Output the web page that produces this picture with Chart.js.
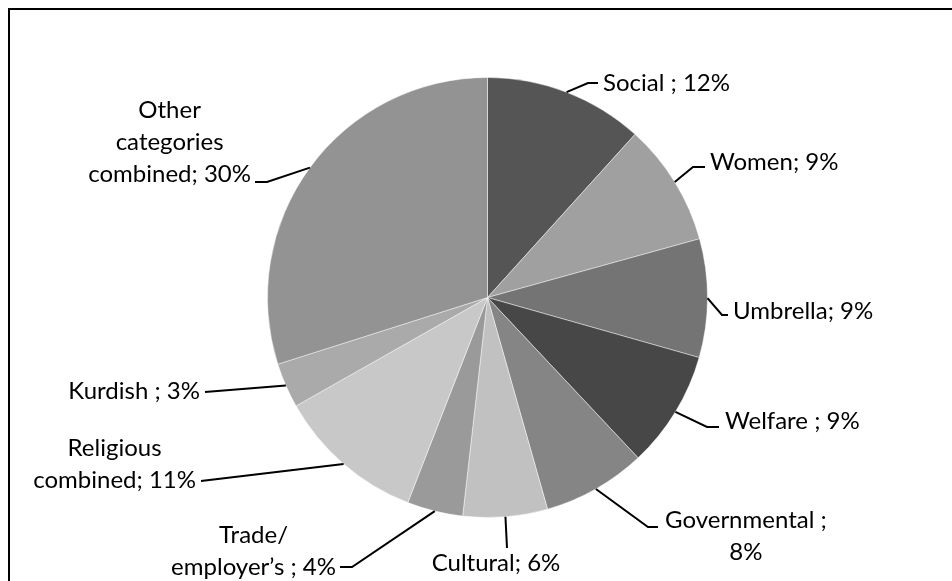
<!DOCTYPE html>
<html>
<head>
<meta charset="utf-8">
<script src="https://cdn.jsdelivr.net/npm/chart.js@4.4.1/dist/chart.umd.min.js"></script>
<style>
  html, body { margin: 0; padding: 0; background: #fff; overflow: hidden; }
  #wrap { width: 952px; height: 581px; }
</style>
</head>
<body>
<div id="wrap"><canvas id="pieChart" width="952" height="581"></canvas></div>
<script>
// Shares by organisation type (percent)
const categories = ['Social', 'Women', 'Umbrella', 'Welfare', 'Governmental', 'Cultural',
    'Trade/ employer\u2019s', 'Religious combined', 'Kurdish', 'Other categories combined'];
const shares = [11.7, 9.0, 8.7, 8.6, 7.6, 6.2, 4.1, 10.9, 3.3, 29.9];
const sliceColors = ['#555555', '#a0a0a0', '#747474', '#474747', '#858585',
    '#c1c1c1', '#9a9a9a', '#c8c8c8', '#aaaaaa', '#939393'];

// label text as it is broken in the original, percent appended to the last line
const labelLines = [
    ['Social ; '], ['Women; '], ['Umbrella; '], ['Welfare ; '], ['Governmental ;', ''],
    ['Cultural; '], ['Trade/', 'employer\u2019s ; '], ['Religious', 'combined; '],
    ['Kurdish ; '], ['Other', 'categories', 'combined; ']
];

// where each label sits and how its leader line bends
const labelLayout = [
    { anchor: 'left',   x: 603, y: 83,  pts: [[588, 83], [598, 83]] },
    { anchor: 'left',   x: 710, y: 162, pts: [[693, 167], [705, 167]] },
    { anchor: 'left',   x: 733, y: 311, pts: [[722, 315], [728, 315]] },
    { anchor: 'left',   x: 725, y: 421, pts: [[707, 427], [719, 427]] },
    { anchor: 'left',   x: 665, y: 520, pts: [[648, 527], [658, 527]] },
    { anchor: 'center', x: 496, y: 563, pts: [[507, 548]] },
    { anchor: 'right',  x: 336, y: 535, pts: [[352, 567], [340, 567]] },
    { anchor: 'right',  x: 196, y: 448, pts: [[201, 481]] },
    { anchor: 'right',  x: 200, y: 391, pts: [[205, 392]] },
    { anchor: 'right',  x: 251, y: 110, pts: [[267, 182], [255, 182]] }
];

const FONT = '24px Lato, "Open Sans", sans-serif';
const LINE_H = 32;

const frameAndLabels = {
    id: 'frameAndLabels',
    beforeDraw(chart) {
        const c = chart.ctx;
        c.save();
        c.fillStyle = '#ffffff';
        c.fillRect(0, 0, chart.width, chart.height);
        c.strokeStyle = '#000000';
        c.lineWidth = 2;
        c.beginPath();
        c.moveTo(9, chart.height);
        c.lineTo(9, 9);
        c.lineTo(chart.width, 9);
        c.stroke();
        c.restore();
    },
    afterDatasetsDraw(chart) {
        const c = chart.ctx;
        const meta = chart.getDatasetMeta(0);
        const total = shares.reduce((a, b) => a + b, 0);
        c.save();
        c.font = FONT;
        c.fillStyle = '#000000';
        c.strokeStyle = '#000000';
        c.lineWidth = 2;
        c.textBaseline = 'middle';
        c.textAlign = 'center';
        meta.data.forEach((arc, i) => {
            const p = arc.getProps(['x', 'y', 'startAngle', 'endAngle', 'outerRadius'], true);
            const mid = (p.startAngle + p.endAngle) / 2;
            const lay = labelLayout[i];

            // leader line from the slice edge
            c.beginPath();
            c.moveTo(p.x + Math.cos(mid) * p.outerRadius, p.y + Math.sin(mid) * p.outerRadius);
            lay.pts.forEach(pt => c.lineTo(pt[0], pt[1]));
            c.stroke();

            const pct = Math.round(shares[i] / total * 100) + '%';
            const lines = labelLines[i].slice();
            lines[lines.length - 1] += pct;
            const maxW = Math.max(...lines.map(t => c.measureText(t).width));
            let cx = lay.x;
            if (lay.anchor === 'left') cx = lay.x + maxW / 2;
            if (lay.anchor === 'right') cx = lay.x - maxW / 2;
            lines.forEach((t, k) => {
                if (lines.length === 1 && lay.anchor === 'left') {
                    c.textAlign = 'left';
                    c.fillText(t, lay.x, lay.y);
                    c.textAlign = 'center';
                } else {
                    c.fillText(t, cx, lay.y + k * LINE_H);
                }
            });
        });
        c.restore();
    }
};

new Chart(document.getElementById('pieChart').getContext('2d'), {
    type: 'pie',
    data: {
        labels: categories,
        datasets: [{
            data: shares,
            backgroundColor: sliceColors,
            borderColor: 'rgba(255,255,255,0.45)',
            borderWidth: 1
        }]
    },
    options: {
        responsive: false,
        animation: false,
        layout: { padding: { left: 267, right: 244, top: 77, bottom: 63 } },
        plugins: { legend: { display: false }, tooltip: { enabled: false } }
    },
    plugins: [frameAndLabels]
});
</script>
</body>
</html>
